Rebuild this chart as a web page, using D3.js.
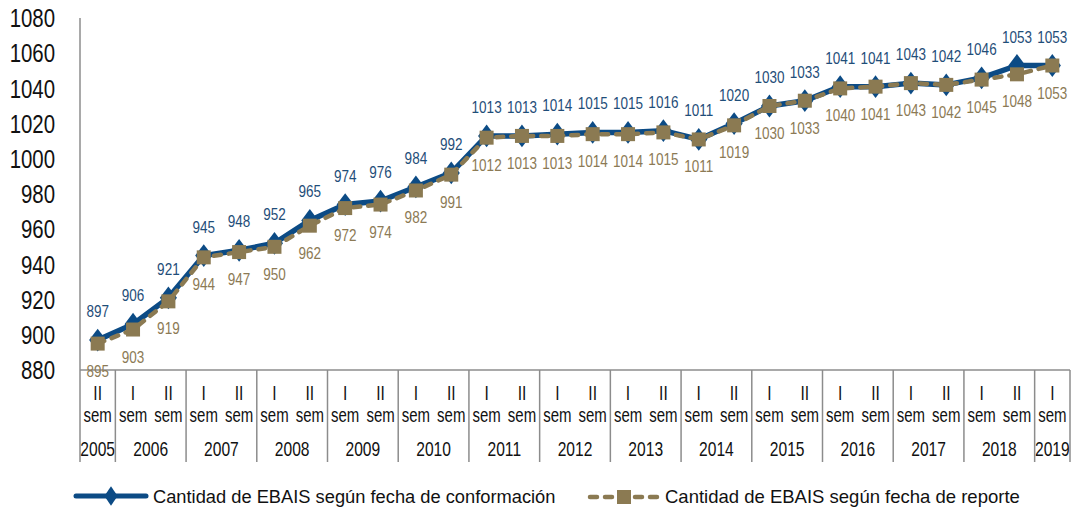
<!DOCTYPE html>
<html>
<head>
<meta charset="utf-8">
<script src="https://cdn.jsdelivr.net/npm/d3@7"></script>
<style>
  body { margin: 0; background: #fff; }
  svg { display: block; font-family: "Liberation Sans", Arial, sans-serif; }
</style>
</head>
<body>
<svg width="1076" height="512"></svg>
<script>
const width = 1076, height = 512;
const svg = d3.select("svg");

// Data
const years = ["2005", "2006", "2007", "2008", "2009", "2010", "2011", "2012", "2013", "2014", "2015", "2016", "2017", "2018", "2019"];
const periods = [
  ["2005", "II"],
  ["2006", "I"], ["2006", "II"], ["2007", "I"], ["2007", "II"], ["2008", "I"], ["2008", "II"],
  ["2009", "I"], ["2009", "II"], ["2010", "I"], ["2010", "II"], ["2011", "I"], ["2011", "II"],
  ["2012", "I"], ["2012", "II"], ["2013", "I"], ["2013", "II"], ["2014", "I"], ["2014", "II"],
  ["2015", "I"], ["2015", "II"], ["2016", "I"], ["2016", "II"], ["2017", "I"], ["2017", "II"],
  ["2018", "I"], ["2018", "II"], ["2019", "I"]
];
const conformacion = [897, 906, 921, 945, 948, 952, 965, 974, 976, 984, 992, 1013, 1013, 1014, 1015, 1015, 1016, 1011, 1020, 1030, 1033, 1041, 1041, 1043, 1042, 1046, 1053, 1053];
const reporte = [895, 903, 919, 944, 947, 950, 962, 972, 974, 982, 991, 1012, 1013, 1013, 1014, 1014, 1015, 1011, 1019, 1030, 1033, 1040, 1041, 1043, 1042, 1045, 1048, 1053];
const yTicks = [880, 900, 920, 940, 960, 980, 1000, 1020, 1040, 1060, 1080];
const seriesNames = ["Cantidad de EBAIS según fecha de conformación", "Cantidad de EBAIS según fecha de reporte"];

const blue = "#0c4b85", tan = "#8b7a52";
const axisColor = "#8c8c8c";

const mLeft = 80, mRight = 1070, mTop = 18, mBottom = 370;
const idx = d3.range(periods.length);

const x = d3.scaleBand().domain(idx).range([mLeft, mRight]);
const y = d3.scaleLinear().domain([880, 1080]).range([mBottom, mTop]);
const cx = i => x(i) + x.bandwidth() / 2;

// condensed text (the original uses a narrow face)
function narrow(sel, fx, fy, sx) {
  sel.attr("transform", (d, i) => `translate(${fx(d, i)},${fy(d, i)}) scale(${sx},1)`);
}

// Y axis
svg.append("line").attr("x1", mLeft).attr("x2", mLeft).attr("y1", mTop).attr("y2", 462)
  .attr("stroke", axisColor).attr("stroke-width", 1.5);
svg.append("g").selectAll("text").data(yTicks).join("text")
  .attr("dy", "0.36em").attr("text-anchor", "end").attr("font-size", 25.5).attr("fill", "#111")
  .text(d => d)
  .call(narrow, () => 55, d => y(d), 0.8);

// X axis (two level categories)
svg.append("line").attr("x1", mLeft).attr("x2", mRight).attr("y1", mBottom).attr("y2", mBottom)
  .attr("stroke", axisColor).attr("stroke-width", 1.5);

const gCat = svg.append("g").attr("font-size", 20).attr("fill", "#111").attr("text-anchor", "middle");
gCat.selectAll("text.sem").data(idx).join("text").attr("class", "sem")
  .text(i => periods[i][1]).call(narrow, i => cx(i), () => 400, 0.78);
gCat.selectAll("text.semw").data(idx).join("text").attr("class", "semw")
  .text("sem").call(narrow, i => cx(i), () => 422, 0.75);

const yearSpans = years.map(yr => {
  const ii = idx.filter(i => periods[i][0] === yr);
  return { yr, x0: x(ii[0]), x1: x(ii[ii.length - 1]) + x.bandwidth() };
});
gCat.selectAll("text.yr").data(yearSpans).join("text").attr("class", "yr")
  .text(d => d.yr).call(narrow, d => (d.x0 + d.x1) / 2, () => 456, 0.78);
svg.append("g").selectAll("line").data(yearSpans).join("line")
  .attr("x1", d => d.x1).attr("x2", d => d.x1).attr("y1", mBottom).attr("y2", 462)
  .attr("stroke", axisColor).attr("stroke-width", 1.5);

// Lines
const line = d3.line().x((d, i) => cx(i)).y(d => y(d));

svg.append("path").datum(conformacion).attr("d", line)
  .attr("fill", "none").attr("stroke", blue).attr("stroke-width", 5.5).attr("stroke-linejoin", "round");
const diamond = d3.symbol().type(d3.symbolDiamond).size(150);
svg.append("g").selectAll("path").data(conformacion).join("path")
  .attr("d", diamond).attr("transform", (d, i) => `translate(${cx(i)},${y(d)}) scale(1.3,1)`)
  .attr("fill", blue);

svg.append("path").datum(reporte).attr("d", line)
  .attr("fill", "none").attr("stroke", tan).attr("stroke-width", 4.5)
  .attr("stroke-dasharray", "7,8").attr("stroke-linecap", "round");
svg.append("g").selectAll("rect").data(reporte).join("rect")
  .attr("x", (d, i) => cx(i) - 7).attr("y", d => y(d) - 7)
  .attr("width", 14).attr("height", 14).attr("fill", tan);

// Data labels
svg.append("g").attr("font-size", 16.5).attr("fill", "#1f4e79").attr("text-anchor", "middle")
  .selectAll("text").data(conformacion).join("text")
  .text(d => d).call(narrow, (d, i) => cx(i), d => y(d) - 23, 0.82);
svg.append("g").attr("font-size", 16.5).attr("fill", "#8c7a55").attr("text-anchor", "middle")
  .selectAll("text").data(reporte).join("text")
  .text(d => d).call(narrow, (d, i) => cx(i), d => y(d) + 33, 0.82);

// Legend
const lg = svg.append("g");
lg.append("line").attr("x1", 76).attr("x2", 146).attr("y1", 496).attr("y2", 496)
  .attr("stroke", blue).attr("stroke-width", 5).attr("stroke-linecap", "round");
lg.append("path").attr("d", diamond).attr("transform", "translate(111,496) scale(1,0.85)").attr("fill", blue);
lg.append("text").attr("x", 153).attr("y", 503).attr("font-size", 18.3).attr("fill", "#111").text(seriesNames[0]);

lg.append("line").attr("x1", 590).attr("x2", 657).attr("y1", 497).attr("y2", 497)
  .attr("stroke", tan).attr("stroke-width", 4.5).attr("stroke-dasharray", "7,8").attr("stroke-linecap", "round");
lg.append("rect").attr("x", 617).attr("y", 490).attr("width", 14).attr("height", 14).attr("fill", tan);
lg.append("text").attr("x", 665).attr("y", 503).attr("font-size", 18.5).attr("fill", "#111").text(seriesNames[1]);
</script>
</body>
</html>
